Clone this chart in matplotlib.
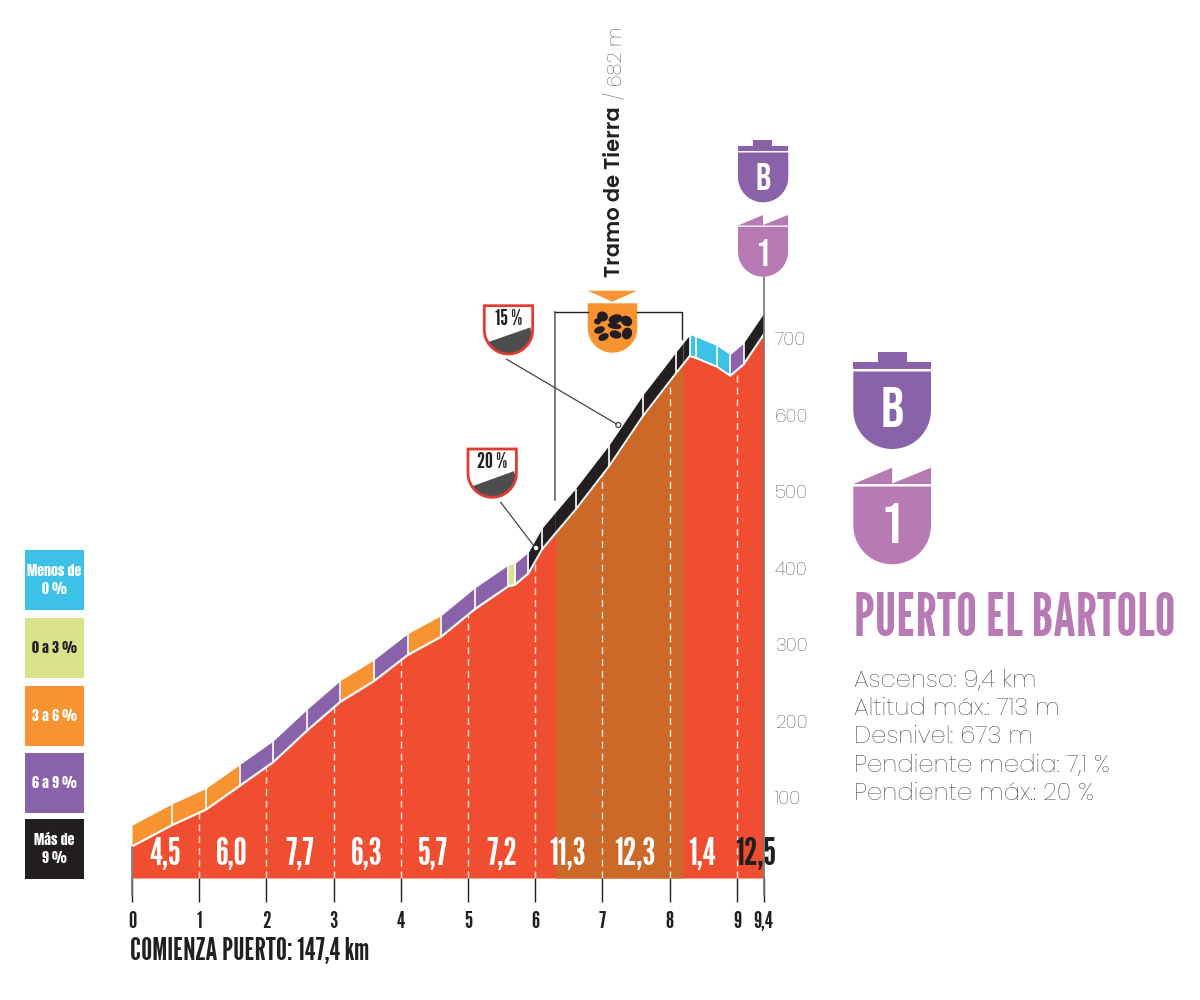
import numpy as np
import matplotlib
matplotlib.use("Agg")
import matplotlib.pyplot as plt
from matplotlib.patches import Polygon, Ellipse, Rectangle

NARROW = ["League Gothic", "Oswald", "Liberation Sans", "DejaVu Sans"]
HEAVY = ["Anton", "League Gothic", "Liberation Sans", "DejaVu Sans"]
BADGE = ["Bebas Neue", "League Gothic", "Liberation Sans", "DejaVu Sans"]
LIGHT = ["Poppins", "Lato", "DejaVu Sans"]

RED = "#F04E30"
BROWN = "#CC6828"
BLUE = "#3EC1E6"
GREEN = "#D8E38C"
ORANGE = "#F79431"
PURPLE = "#8A62AA"
PINK = "#B87AB4"
BLACK = "#231F20"

# profile
profile_km = [0, 0.6, 1.1, 1.6, 2.1, 2.6, 3.1, 3.6, 4.1, 4.6, 5.1, 5.6, 5.7, 5.9, 6.1,
              6.3, 6.6, 7.1, 7.6, 8.1, 8.2, 8.3, 8.4, 8.7, 8.9, 9.1, 9.4]
profile_alt = [36, 64, 84, 115, 146, 187, 225, 252, 286, 310, 346, 376, 378, 393, 424,
               445, 476, 533, 598, 655, 666, 677, 674, 663, 651, 666, 705]
segment_colors = [ORANGE, ORANGE, ORANGE, PURPLE, PURPLE, PURPLE, ORANGE, PURPLE, ORANGE, PURPLE,
                  PURPLE, GREEN, PURPLE, BLACK, BLACK, BLACK, BLACK, BLACK, BLACK, BLACK,
                  BLACK, BLUE, BLUE, BLUE, PURPLE, BLACK]
no_separator_km = [0, 6.3, 8.2, 9.4]
band_height = 28.5

dirt_start = 6.3
dirt_end = 8.2

km_ticks = [0, 1, 2, 3, 4, 5, 6, 7, 8, 9, 9.4]
km_labels = ["0", "1", "2", "3", "4", "5", "6", "7", "8", "9", "9,4"]
alt_ticks = [100, 200, 300, 400, 500, 600, 700]

slope_km = [0.49, 1.49, 2.5, 3.5, 4.48, 5.5, 6.48, 7.49, 8.48, 9.28]
slope_labels = ["4,5", "6,0", "7,7", "6,3", "5,7", "7,2", "11,3", "12,3", "1,4", "12,5"]

legend_labels = ["Menos de\n0 %", "0 a 3 %", "3 a 6 %", "6 a 9 %", "Más de\n9 %"]
legend_colors = [BLUE, GREEN, ORANGE, PURPLE, BLACK]
legend_text_colors = ["white", BLACK, "white", "white", "white"]
legend_tops = [550, 618, 686, 753, 819]

info_lines = ["Ascenso: 9,4 km", "Altitud máx.: 713 m", "Desnivel: 673 m",
              "Pendiente media: 7,1 %", "Pendiente máx.: 20 %"]
info_y = [681, 709, 737, 766, 794]


def shield_points(xl, xr, ytop, ybot):
    # flat top, straight sides, round bottom
    r = (xr - xl) / 2
    t = np.linspace(0, np.pi, 40)
    xs = (xl + xr) / 2 + r * np.cos(t)
    ys = ybot - r + r * np.sin(t)
    return [(xl, ytop), (xr, ytop)] + list(zip(xs, ys))


fig = plt.figure(figsize=(12, 10), dpi=100)

# main axes, placed so km and metres land where the reference has them
ax = fig.add_axes([132 / 1200, 122 / 1000, 631.7 / 1200, 578 / 1000])
ax.set_xlim(0, 9.4)
ax.set_ylim(-4.6, 750.9)
ax.patch.set_alpha(0)

km = np.array(profile_km)
alt = np.array(profile_alt)
ax.fill_between(km, -4.6, alt, color=RED, lw=0, zorder=1)
ax.fill_between(km, -4.6, alt, where=(km >= dirt_start) & (km <= dirt_end), color=BROWN, lw=0, zorder=2)

for i, c in enumerate(segment_colors):
    ax.fill_between(km[i:i + 2], alt[i:i + 2] + 1, alt[i:i + 2] + band_height, color=c, lw=0, zorder=3)
ax.plot(km, alt + 1, color="white", lw=1.3, zorder=4)
for k, a in zip(profile_km, profile_alt):
    if k not in no_separator_km:
        ax.plot([k, k], [a, a + band_height], color="white", lw=1.2, zorder=4, solid_capstyle="butt")

# dashed km marks inside the profile
for k in km_ticks[1:-1]:
    ax.plot([k, k], [-4.6, np.interp(k, km, alt)], color="white", lw=1, dashes=(5, 3.5), zorder=5, alpha=0.85)

for k, lab in zip(slope_km, slope_labels):
    ax.text(k, 26, lab, color=BLACK if lab == "12,5" else "white", family=NARROW, fontsize=27,
            ha="center", va="center", zorder=6)

ax.set_xticks(km_ticks)
ax.set_xticklabels(km_labels, family=NARROW, fontsize=17, color=BLACK)
ax.tick_params(axis="x", length=17, width=1, color=BLACK, pad=7)
ax.yaxis.tick_right()
ax.set_yticks(alt_ticks)
ax.set_yticklabels([str(v) for v in alt_ticks], family=LIGHT, fontweight="light", fontsize=13.5, color=BLACK)
ax.tick_params(axis="y", length=0, pad=8)
for s in ax.spines.values():
    s.set_visible(False)

# overlay in picture pixels for the badges and notes
ov = fig.add_axes([0, 0, 1, 1], zorder=5)
ov.set_xlim(0, 1200)
ov.set_ylim(1000, 0)
ov.axis("off")

# outer vertical rules
ov.plot([132, 132], [847, 895], color="#777777", lw=1.2)
ov.plot([763.5, 763.5], [277, 895], color="#777777", lw=1.2, zorder=0)

# dirt bracket
ov.plot([555, 555], [500, 311.5], color="#666666", lw=1.2)
ov.plot([555, 588], [311.5, 311.5], color=BLACK, lw=1)
ov.plot([637, 682.3, 682.3], [311.5, 311.5, 339], color=BLACK, lw=1)

# dirt badge
ov.add_patch(Polygon([(588, 290.7), (637, 290.7), (612.3, 301.7)], color=ORANGE, lw=0))
ov.add_patch(Polygon(shield_points(587.7, 637.3, 303.3, 352.7), color=ORANGE, lw=0))
pebbles = [(602.5, 316.5, 11, 10, 20), (615.5, 319, 14, 9, -15), (626.5, 321, 12, 10, 30), (597.5, 321.5, 7, 6, 10),
           (599.5, 330, 11, 7, -20), (614.5, 326, 14, 6, 10), (603.5, 337, 11, 7, -25), (615.5, 334.5, 12, 8, 15),
           (627, 333.5, 10, 12, 20)]
for px, py, w, h, ang in pebbles:
    ov.add_patch(Ellipse((px, py), w, h, angle=ang, color=BLACK, lw=0))

# gradient badges
for xl, ytop, lab, wedge_l, wedge_r in [(484.3, 305.7, "15 %", 341.7, 327.3), (468, 449, "20 %", 486, 471)]:
    xr = xl + 48.4
    ybot = ytop + 48.3
    ov.add_patch(Polygon(shield_points(xl, xr, ytop, ybot), fc="white", ec="none"))
    wedge = [(p[0], p[1]) for p in shield_points(xl, xr, ytop, ybot)[2:]]
    r = [(x, y) for x, y in wedge if y > wedge_l - 4 or x > (xl + xr) / 2]
    ov.add_patch(Polygon([(xr - 2, wedge_r), (xr - 2, ybot - 24)] + r[1:] + [(xl + 5, wedge_l)], fc="#4D4D4F", ec="none"))
    ov.add_patch(Polygon(shield_points(xl, xr, ytop, ybot), fc="none", ec="#E03C31", lw=2))
    ov.text((xl + xr) / 2, ytop + 13.5, lab, family=NARROW, fontsize=16, color=BLACK, ha="center", va="center")

ov.plot([506.7, 616.5], [359.3, 424], color="#444444", lw=0.9)
ov.plot([500.7, 534], [502.3, 546], color="#444444", lw=0.9)
ov.add_patch(Ellipse((618.3, 425), 5, 5, fc="white", ec="#444444", lw=0.9))
ov.add_patch(Ellipse((536, 548), 4.5, 4.5, fc="white", ec="none"))


def cap_b(xl, xr, cap_l, cap_r, ytop, yshoulder, ygap, ybody, ybot, fs, ytext):
    pts = [(xl, ygap), (xl, yshoulder), (cap_l, yshoulder), (cap_l, ytop), (cap_r, ytop), (cap_r, yshoulder),
           (xr, yshoulder), (xr, ygap)]
    ov.add_patch(Polygon(pts, color=PURPLE, lw=0))
    ov.add_patch(Polygon(shield_points(xl, xr, ybody, ybot), color=PURPLE, lw=0))
    ov.text((xl + xr) / 2, ytext, "B", family=BADGE, fontsize=fs, color="white",
            ha="center", va="center")


def cap_1(xl, xr, ytip, ygap, ybody, ybot, fs, ytext):
    xm = (xl + xr) / 2
    pts = [(xl, ygap), (xm, ytip), (xm, ygap - 0.5), (xr, ytip), (xr, ygap)]
    ov.add_patch(Polygon(pts, color=PINK, lw=0))
    ov.add_patch(Polygon(shield_points(xl, xr, ybody, ybot), color=PINK, lw=0))
    ov.text(xm, ytext, "1", family=BADGE, fontsize=fs, color="white",
            ha="center", va="center")


cap_b(738, 788.3, 753.3, 772.3, 140, 146, 151, 152.5, 202.3, 27, 176)
cap_1(738, 788, 215, 225.5, 226.8, 276.7, 27, 252)
cap_b(853.3, 931, 877.7, 906.7, 352, 361.7, 369, 371.5, 449, 41, 406.7)
cap_1(853.3, 931, 467.7, 484, 486.5, 564.3, 41, 522.7)

# rotated dirt note
ov.text(615, 277, "Tramo de Tierra", rotation=90, family=LIGHT, fontweight="semibold", fontsize=15.2, color=BLACK,
        ha="center", va="bottom")
ov.text(616, 99, "/ 682 m", rotation=90, family=LIGHT, fontweight="light", fontsize=14, color=BLACK,
        ha="center", va="bottom")

# slope legend
for lab, c, tc, top in zip(legend_labels, legend_colors, legend_text_colors, legend_tops):
    ov.add_patch(Rectangle((25, top), 59, 59.5, color=c, lw=0))
    ov.text(54.5, top + 30, lab, family=HEAVY, fontsize=10, color=tc, ha="center", va="center",
            linespacing=1.3)

# port title and facts
ov.text(854, 619, "PUERTO EL BARTOLO", family=NARROW, fontsize=42.3, color=PINK, ha="left", va="center")
for line, y in zip(info_lines, info_y):
    ov.text(854, y, line, family=LIGHT, fontweight="light", fontsize=17.5, color=BLACK, ha="left", va="center")

ov.text(130, 952, "COMIENZA PUERTO: 147,4 km", family=NARROW, fontsize=22.3, color=BLACK,
        ha="left", va="center")

fig.savefig("out.png", dpi=100)
